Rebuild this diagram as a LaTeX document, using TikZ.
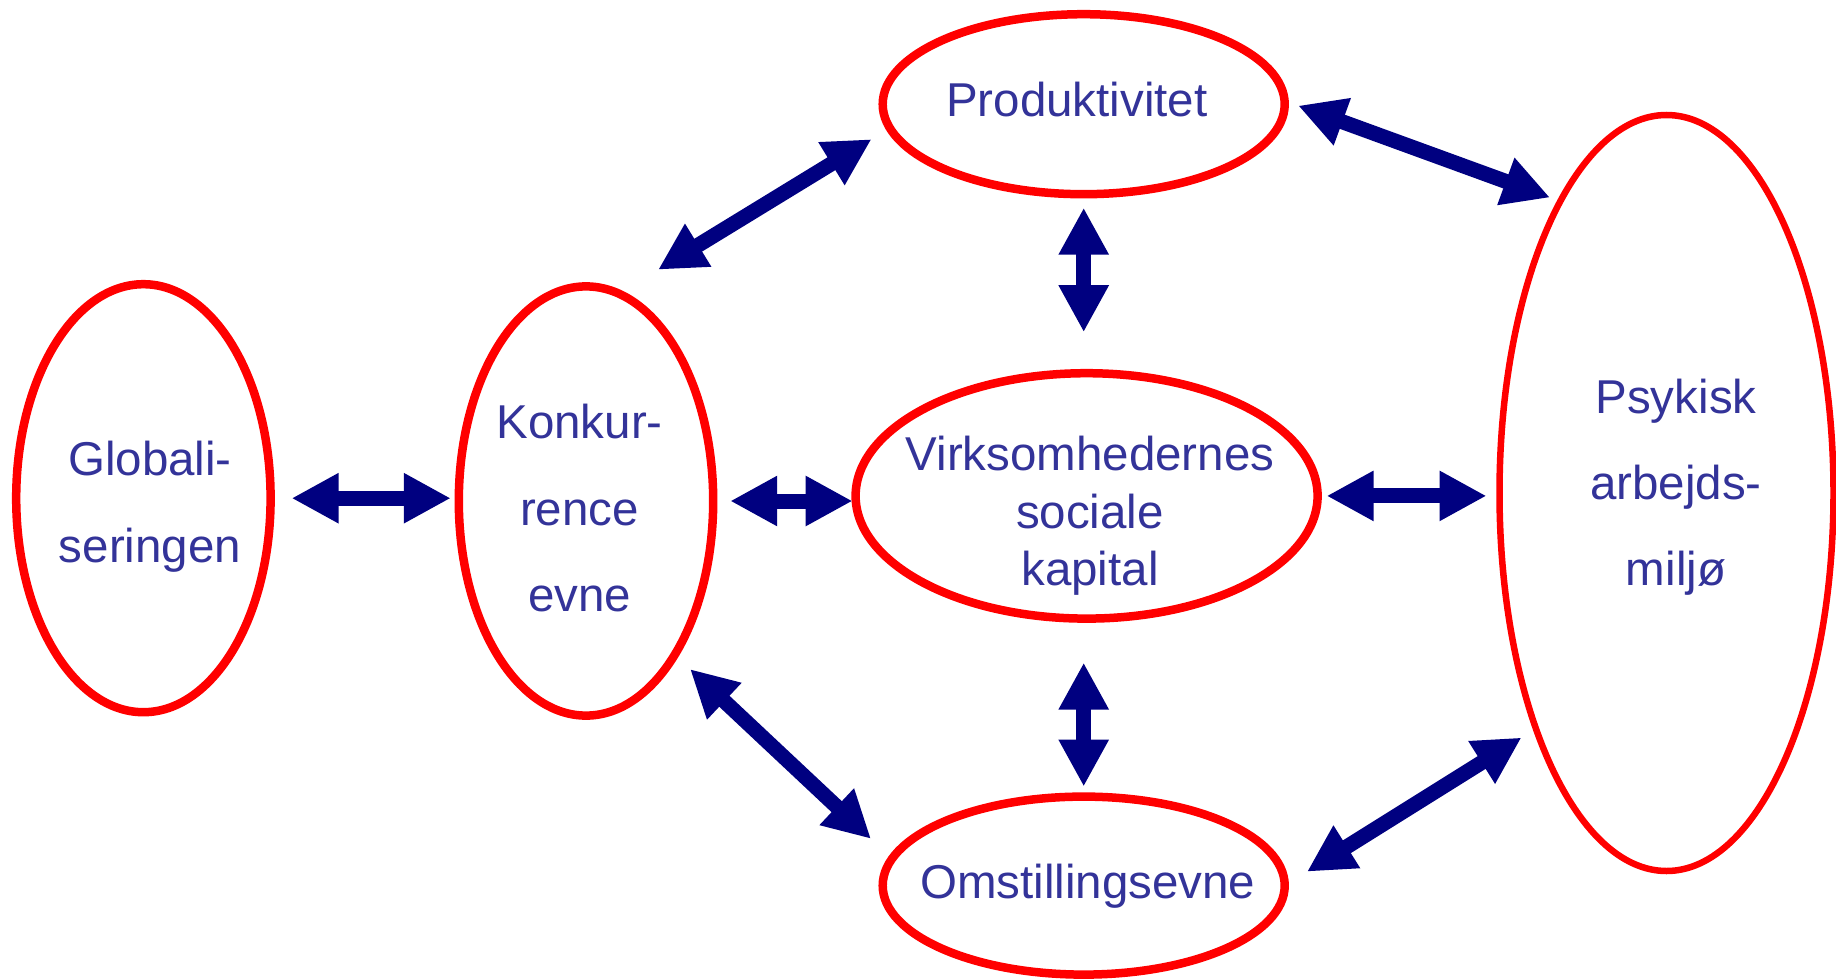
\documentclass[tikz,border=0pt]{standalone}
\usepackage{fontspec}
\setmainfont{Liberation Sans}
\usetikzlibrary{shapes.geometric,arrows.meta}
\definecolor{ringred}{HTML}{FF0000}
\definecolor{arrowblue}{HTML}{000080}
\definecolor{labelblue}{HTML}{333399}
\begin{document}
\begin{tikzpicture}[x=1pt,y=-1pt,
  ring/.style={ellipse, draw=ringred, line width=8.5pt, inner sep=0pt, outer sep=0pt},
  lbl/.style={text=labelblue, font=\fontsize{47.5}{47.5}\selectfont, anchor=base, inner sep=0pt},
  biarrow/.style={draw=arrowblue, line width=15pt,
    {Triangle[length=47pt,width=47pt]}-{Triangle[length=47pt,width=47pt]}},
]
\fill[white] (0,0) rectangle (1836,979);
\useasboundingbox (0,0) rectangle (1836,979);

% the six factors
\node[ring, minimum width=254.4pt, minimum height=428pt]   (glob) at (143.4,498.2) {};
\node[ring, minimum width=254.4pt, minimum height=429.2pt] (konk) at (586,501) {};
\node[ring, minimum width=402pt,   minimum height=180pt]   (prod) at (1083.7,104.2) {};
\node[ring, minimum width=462pt,   minimum height=245.4pt] (virk) at (1086.6,495.9) {};
\node[ring, minimum width=402pt,   minimum height=178pt]   (omst) at (1083.7,885.6) {};
\node[ring, line width=6.5pt, minimum width=334pt, minimum height=756pt] (psyk) at (1666.5,493) {};

% labels
\node[lbl] (globA) at (150,475) {Globali-};
\node[lbl] (globB) at (150,562.7) {seringen};
\node[lbl] (konkA) at (579.5,438.3) {Konkur-};
\node[lbl] (konkB) at (579.5,525) {rence};
\node[lbl] (konkC) at (579.5,611.7) {evne};
\node[lbl] (prodA) at (1076.8,116.7) {Produktivitet};
\node[lbl] (virkA) at (1090,470.7) {Virksomhedernes};
\node[lbl] (virkB) at (1090,528) {sociale};
\node[lbl] (virkC) at (1090,585.5) {kapital};
\node[lbl] (omstA) at (1087.8,898.3) {Omstillingsevne};
\node[lbl] (psykA) at (1676,413) {Psykisk};
\node[lbl] (psykB) at (1676,499) {arbejds-};
\node[lbl] (psykC) at (1676,585) {miljø};

% two-way influences
\draw[biarrow, shorten <=21pt, shorten >=8pt] (glob.east) -- (glob.east -| konk.west);
\draw[biarrow, shorten <=17pt, shorten >=3pt] (konk.east) -- (konk.east -| virk.west);
\draw[biarrow, shorten <=9pt, shorten >=13pt] (virk.east) -- (virk.east -| psyk.west);
\draw[biarrow, shorten <=13.5pt, shorten >=41pt] (prod.south) -- (prod.south |- virk.north);
\draw[biarrow, shorten <=44pt, shorten >=10pt] (omst.north |- virk.south) -- (omst.north);
\draw[biarrow, shorten <=46pt, shorten >=21.5pt] (konk.81.5) -- (prod.187.3);
\draw[biarrow, shorten <=14.5pt, shorten >=11pt] (prod.1.24) -- (psyk.110.75);
\draw[biarrow, shorten <=21pt, shorten >=29pt] (konk.300.3) -- (omst.172.2);
\draw[biarrow, shorten <=26.3pt, shorten >=17pt] (omst.east) -- (psyk.241.9);
\end{tikzpicture}
\end{document}
